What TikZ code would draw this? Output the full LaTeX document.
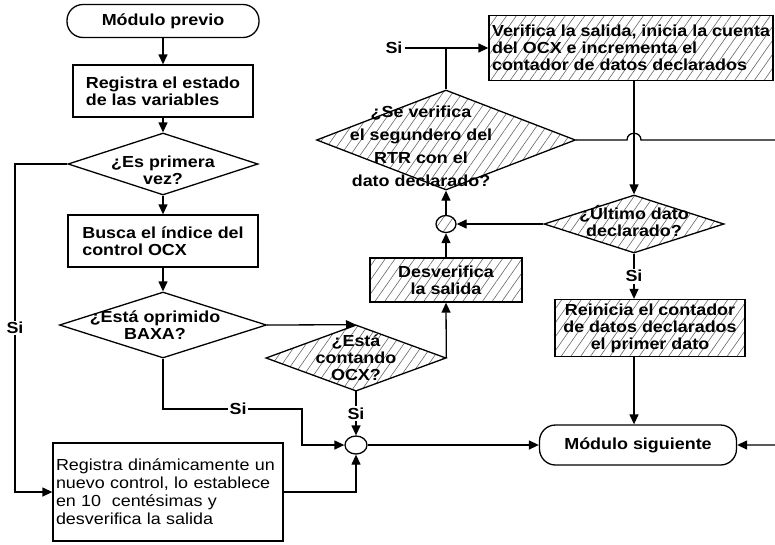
\documentclass[tikz,border=0pt]{standalone}
\usepackage{fontspec}
\setmainfont{Liberation Sans}[FakeStretch=1.12]
\usetikzlibrary{shapes.geometric, arrows.meta, patterns.meta}

\begin{document}
\begin{tikzpicture}[x=1pt, y=-1pt,
  every node/.style={font=\fontsize{16}{17}\selectfont\bfseries, line width=1.3pt},
  proceso/.style={draw, rectangle, inner sep=2pt, align=left},
  terminal/.style={draw, rectangle, rounded corners=16pt, inner sep=2pt},
  decision/.style={draw, diamond, inner sep=0pt},
  cruce/.style={draw, ellipse, inner sep=0pt},
  rayado/.style={pattern={Lines[angle=55, distance=8pt, line width=0.6pt]}, pattern color=black!60},
  lbl/.style={align=center, inner sep=0pt},
  si/.style={fill=white, inner sep=1.5pt},
  flecha/.style={line width=1.3pt, -{Triangle[length=10pt, width=9pt]}},
  linea/.style={line width=1.3pt},
]
\useasboundingbox (0,0) rectangle (775,544);

% columna de la izquierda
\node[terminal, minimum width=192, minimum height=33] (previo) at (163,21) {Módulo previo};
\node[proceso, minimum width=180, minimum height=52] (estado) at (163,91) {Registra el estado\\de las variables};
\node[decision, minimum width=190, minimum height=62,
      label={[lbl, yshift=-6]center:{¿Es primera\\vez?}}] (primera) at (163,164) {};
\node[proceso, minimum width=190, minimum height=52] (indice) at (163,241) {Busca el índice del\\control OCX};
\node[decision, minimum width=207, minimum height=66,
      label={[lbl, xshift=-8]center:{¿Está oprimido\\BAXA?}}] (baxa) at (163,325) {};
\node[proceso, font=\fontsize{16}{18}\selectfont, minimum width=230, minimum height=98, text width=224]
      (nuevo) at (168,492) {Registra dinámicamente un\\nuevo control, lo establece\\en 10~ centésimas y\\desverifica la salida};

% centro
\node[decision, rayado, minimum width=180, minimum height=66,
      label={[lbl]center:{¿Está\\contando\\OCX?}}] (contando) at (356,358) {};
\node[cruce, minimum width=22, minimum height=18] (union) at (356,445) {};
\node[proceso, rayado, align=center, minimum width=152, minimum height=44] (desverifica) at (446,280) {Desverifica\\la salida};
\node[cruce, rayado, minimum width=20, minimum height=17] (nodo) at (446,224) {};
\node[decision, rayado, minimum width=259, minimum height=100,
      label={[lbl, xshift=-25, yshift=-6, font=\fontsize{16}{23}\selectfont\bfseries]center:{¿Se verifica\\el segundero del\\RTR con el\\dato declarado?}}] (segundero) at (446,140) {};
\node[si] (siver) at (394,48) {Si};

% columna de la derecha
\node[proceso, rayado, minimum width=284, minimum height=65] (verifica) at (631,48) {Verifica la salida, inicia la cuenta\\del OCX e incrementa el\\contador de datos declarados};
\node[decision, rayado, minimum width=180, minimum height=58,
      label={[lbl, yshift=3]center:{¿Último dato\\declarado?}}] (ultimo) at (634,224) {};
\node[proceso, rayado, align=center, minimum width=190, minimum height=57] (reinicia) at (650,328) {Reinicia el contador\\de datos declarados\\el primer dato};
\node[terminal, minimum width=197, minimum height=40] (siguiente) at (638,445) {Módulo siguiente};

\coordinate (izq) at (15,492);
\coordinate (codo) at (302,409);
\coordinate (borde) at (790,140);

% flechas
\draw[flecha] (previo.south) -- (estado.north);
\draw[flecha] (estado.south) -- (primera.north);
\draw[flecha] (primera.south) -- (indice.north);
\draw[flecha] (indice.south) -- (baxa.north);
\draw[flecha] (primera.west) -| node[pos=0.75, si] {Si} (izq) -- (nuevo.west);
\draw[flecha] (baxa.east) -- (contando.north);
\draw[flecha] (baxa.south) |- node[pos=0.77, si] {Si} (codo) |- (union.west);
\draw[flecha] (contando.south) -- node[si] {Si} (union.north);
\draw[flecha] (nuevo.east) -| (union.south);
\draw[flecha] (union.east) -- (siguiente.west);
\draw[flecha] (contando.east) -- (desverifica.south);
\draw[flecha] (desverifica.north) -- (nodo.south);
\draw[flecha] (nodo.north) -- (segundero.south);
\draw[flecha] (ultimo.west) -- (nodo.east);
\draw[flecha] (segundero.north) |- (verifica.west);
\draw[linea] (siver) -- (segundero.north |- verifica.west);
\draw[flecha] (ultimo.north |- verifica.south) -- (ultimo.north);
\draw[flecha] (segundero.east) -- (627,140) .. controls (627,131) and (641,131) .. (641,140)
  -- (borde) |- (siguiente.east);
\draw[flecha] (ultimo.south) -- node[si] {Si} (ultimo.south |- reinicia.north);
\draw[flecha] (ultimo.south |- reinicia.south) -- (ultimo.south |- siguiente.north);
\end{tikzpicture}
\end{document}
